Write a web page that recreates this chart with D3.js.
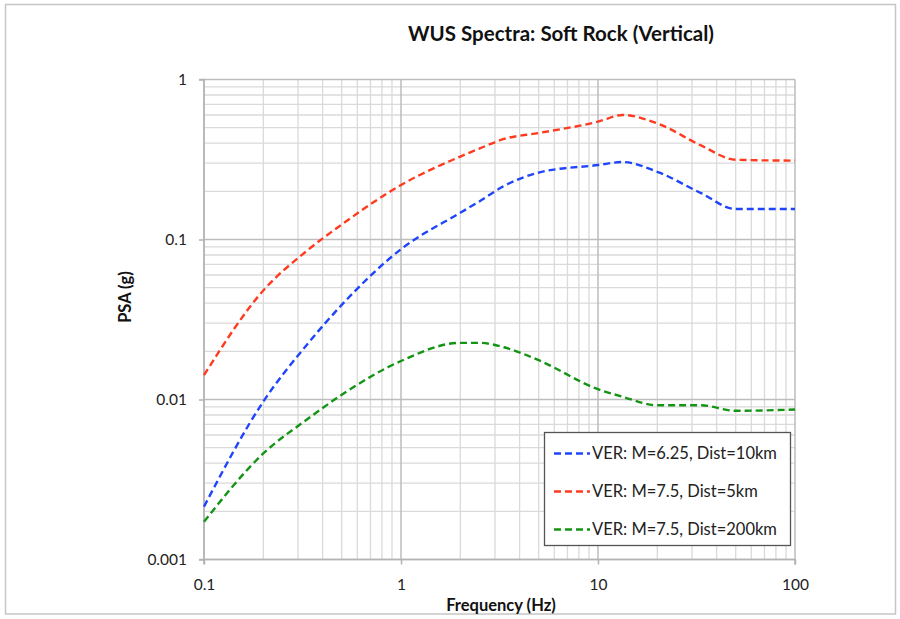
<!DOCTYPE html>
<html>
<head>
<meta charset="utf-8">
<script src="https://cdn.jsdelivr.net/npm/d3@7"></script>
<style>
  html, body { margin: 0; padding: 0; background: #fff; }
  svg { display: block; font-family: Lato, "Open Sans", sans-serif; }
</style>
</head>
<body>
<svg id="chart" width="900" height="619"></svg>
<script>
// Response spectra, vertical component, soft rock sites
const frequencies = [0.1, 0.2, 0.333, 0.5, 1, 2, 2.5, 3.333, 5, 10, 13.333, 20, 33.333, 50, 100];
const psaM625D10 = [0.00214, 0.0097, 0.022, 0.039, 0.087, 0.147, 0.173, 0.216, 0.262, 0.292, 0.305, 0.265, 0.195, 0.155, 0.155];
const psaM75D5 = [0.0142, 0.048, 0.085, 0.124, 0.219, 0.33, 0.37, 0.425, 0.463, 0.545, 0.6, 0.532, 0.387, 0.315, 0.311];
const psaM75D200 = [0.00172, 0.0046, 0.0075, 0.0107, 0.0174, 0.0226, 0.0226, 0.0212, 0.0176, 0.0116, 0.0104, 0.0092, 0.0092, 0.0085, 0.00866];
const seriesNames = ["VER: M=6.25, Dist=10km", "VER: M=7.5, Dist=5km", "VER: M=7.5, Dist=200km"];
const seriesColors = ["#1f45fc", "#ff3b1f", "#149414"];
const xTickValues = [0.1, 1, 10, 100];
const xTickLabels = ["0.1", "1", "10", "100"];
const yTickValues = [0.001, 0.01, 0.1, 1];
const yTickLabels = ["0.001", "0.01", "0.1", "1"];

const svg = d3.select("#chart");
const plot = { left: 204, right: 795, top: 79.5, bottom: 559.5 };

// outer chart frame
svg.append("rect")
  .attr("x", 5.5).attr("y", 4.5).attr("width", 890).attr("height", 609.5)
  .attr("fill", "#fff").attr("stroke", "#c6c6c6").attr("stroke-width", 1.5);

const x = d3.scaleLog().domain([0.1, 100]).range([plot.left, plot.right]);
const y = d3.scaleLog().domain([0.001, 1]).range([plot.bottom, plot.top]);

// minor grid values (2..9 within each decade)
const xMinor = [], yMinor = [];
for (let e = -1; e < 2; e++) for (let k = 2; k <= 9; k++) xMinor.push(k * Math.pow(10, e));
for (let e = -3; e < 0; e++) for (let k = 2; k <= 9; k++) yMinor.push(k * Math.pow(10, e));

const grid = svg.append("g");
grid.selectAll("line.xm").data(xMinor).join("line")
  .attr("x1", d => x(d)).attr("x2", d => x(d))
  .attr("y1", plot.top).attr("y2", plot.bottom)
  .attr("stroke", "#dadada").attr("stroke-width", 1.3);
grid.selectAll("line.ym").data(yMinor).join("line")
  .attr("x1", plot.left).attr("x2", plot.right)
  .attr("y1", d => y(d)).attr("y2", d => y(d))
  .attr("stroke", "#dadada").attr("stroke-width", 1.3);
grid.selectAll("line.xM").data(xTickValues).join("line")
  .attr("x1", d => x(d)).attr("x2", d => x(d))
  .attr("y1", plot.top).attr("y2", plot.bottom)
  .attr("stroke", "#bdbdbd").attr("stroke-width", 1.5);
grid.selectAll("line.yM").data(yTickValues).join("line")
  .attr("x1", plot.left).attr("x2", plot.right)
  .attr("y1", d => y(d)).attr("y2", d => y(d))
  .attr("stroke", "#bdbdbd").attr("stroke-width", 1.5);

// axes
const xAxis = d3.axisBottom(x).tickValues(xTickValues)
  .tickFormat((d, i) => xTickLabels[i]).tickSize(5).tickPadding(14);
const yAxis = d3.axisLeft(y).tickValues(yTickValues)
  .tickFormat((d, i) => yTickLabels[i]).tickSize(5).tickPadding(12);

const gx = svg.append("g").attr("transform", `translate(0,${plot.bottom})`).call(xAxis);
const gy = svg.append("g").attr("transform", `translate(${plot.left},0)`).call(yAxis);
[gx, gy].forEach(g => {
  g.select(".domain").attr("stroke", "#b3b3b3").attr("stroke-width", 1.5);
  g.selectAll(".tick line").attr("stroke", "#b3b3b3").attr("stroke-width", 1.5);
  g.selectAll(".tick text").attr("fill", "#222").style("font-size", "15.5px")
    .style("font-family", "Lato, sans-serif");
});
gy.select(".domain").attr("d", `M-5,${plot.bottom}H0V${plot.top}H-5`);
gx.select(".domain").attr("d", `M${plot.left},5V0H${plot.right}V5`);

// series curves
const allSeries = [psaM625D10, psaM75D5, psaM75D200];
const line = d3.line()
  .x(d => x(d[0]))
  .y(d => y(d[1]))
  .curve(d3.curveMonotoneX);

const lines = svg.append("g");
allSeries.forEach((vals, i) => {
  lines.append("path")
    .datum(frequencies.map((f, j) => [f, vals[j]]))
    .attr("fill", "none")
    .attr("stroke", seriesColors[i])
    .attr("stroke-width", 2.4)
    .attr("stroke-dasharray", "7,4")
    .attr("d", line);
});

// titles
svg.append("text").attr("x", 561).attr("y", 41)
  .attr("text-anchor", "middle").style("font-weight", "bold").style("font-size", "20.5px")
  .attr("fill", "#111").text("WUS Spectra: Soft Rock (Vertical)");
svg.append("text").attr("x", 501).attr("y", 611)
  .attr("text-anchor", "middle").style("font-weight", "bold").style("font-size", "16.5px")
  .attr("fill", "#111").text("Frequency (Hz)");
svg.append("text").attr("transform", "translate(131,297) rotate(-90)")
  .attr("text-anchor", "middle").style("font-weight", "bold").style("font-size", "16.5px")
  .attr("fill", "#111").text("PSA (g)");

// legend
const leg = svg.append("g");
leg.append("rect").attr("x", 544.5).attr("y", 432.5).attr("width", 246).attr("height", 113)
  .attr("fill", "#fff").attr("stroke", "#555").attr("stroke-width", 1.3);
const rowY = [453.5, 491.5, 529.5];
seriesNames.forEach((name, i) => {
  leg.append("line")
    .attr("x1", 554).attr("x2", 590).attr("y1", rowY[i]).attr("y2", rowY[i])
    .attr("stroke", seriesColors[i]).attr("stroke-width", 2.4).attr("stroke-dasharray", "7,4");
  leg.append("text").attr("x", 592).attr("y", rowY[i]).attr("dy", "0.35em")
    .style("font-size", "16.5px").attr("fill", "#222").text(name);
});
</script>
</body>
</html>
